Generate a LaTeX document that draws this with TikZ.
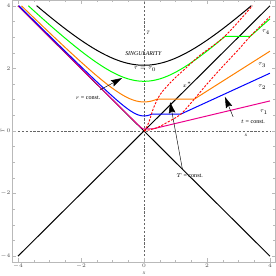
\documentclass[tikz,border=0pt]{standalone}
\usepackage{fontspec}
\setmainfont{Liberation Serif}
\usetikzlibrary{arrows.meta}
\begin{document}
\begin{tikzpicture}[x=1cm,y=0.9937cm,
  curve/.style={line width=0.9pt},
  reddash/.style={red, line width=0.8pt, dash pattern=on 2pt off 1.3pt},
  axisdash/.style={gray!80!black, line width=0.4pt, dash pattern=on 2pt off 1.5pt},
  lbl/.style={font=\fontsize{5.5}{6}\selectfont, inner sep=0.5pt},
  ticklbl/.style={font=\fontsize{4.4}{5}\selectfont, text=gray!60!black, inner sep=0.5pt},
  ptr/.style={line width=0.4pt, -{Stealth[length=10pt,width=6pt,inset=1.5pt]}},
  framebox/.style={gray!55, line width=0.4pt}
]
\useasboundingbox (-4.571,-4.633) rectangle (4.19,4.185);
% frame and ticks
\draw[framebox] (-4.17,-4.19) rectangle (4.17,4.17);
\foreach \v in {-4,-3.5,...,4}{
  \draw[framebox] (\v,-4.19) -- ++(0,0.06);
  \draw[framebox] (\v,4.17) -- ++(0,-0.06);
  \draw[framebox] (-4.17,\v) -- ++(0.06,0);
  \draw[framebox] (4.17,\v) -- ++(-0.06,0);
}
\foreach \v in {-4,-2,0,2,4}{
  \draw[framebox] (\v,-4.19) -- ++(0,0.12);
  \draw[framebox] (\v,4.17) -- ++(0,-0.12);
  \draw[framebox] (-4.17,\v) -- ++(0.12,0);
  \draw[framebox] (4.17,\v) -- ++(-0.12,0);
}
\foreach \v/\n in {-4/a,-2/b,0/c,2/d,4/e}{
  \node[ticklbl,anchor=north] (xt\n) at (\v,-4.22) {$\v$};
  \node[ticklbl,anchor=east] (yt\n) at (-4.22,\v) {$\v$};
}
\node[ticklbl,font=\fontsize{5}{6}\selectfont\itshape] (xaxis) at (0,-4.54) {x};
\node[ticklbl,font=\fontsize{5}{6}\selectfont\itshape,rotate=90] (taxis) at (-4.49,0) {T};
% coordinate axes
\draw[axisdash] (0,-4) -- (0,4.17);
\draw[axisdash] (-4,0) -- (4,0);
\node[lbl,font=\fontsize{4.5}{5}\selectfont\itshape] (Tlab) at (0.13,3.13) {T};
\node[lbl,font=\fontsize{4.5}{5}\selectfont\itshape] (xlab) at (3.24,-0.13) {x};
% light cone
\draw[curve] (-4,-4) -- (4,4);
\draw[curve] (-4,4) -- (4,-4);
% singularity
\draw[curve] plot[domain=-3.41:3.41,samples=90] (\x,{sqrt(\x*\x+4.41)});
% tau curves
\draw[curve,magenta] plot[domain=-4:0.03,samples=60] (\x,{sqrt(\x*\x+0.0036)}) -- (0.28,0.067) -- (4,0.96);
\draw[curve,blue] plot[domain=-3.97:0.25,samples=60] (\x,{sqrt(\x*\x+0.23)}) -- (1.17,0.54) -- (4,1.846);
\draw[curve,orange] plot[domain=-3.89:0.42,samples=60] (\x,{sqrt(\x*\x+0.86)}) -- (1.6,1.02) -- (4,2.55);
\draw[curve,green] plot[domain=-3.67:2.57,samples=80] (\x,{sqrt(\x*\x+2.52)}) -- (3.37,3.02) -- (4,3.585);
% red dashed curves
\draw[reddash] plot[smooth] coordinates {(0,0) (0.1,0.15) (0.19,0.38) (0.29,0.7) (0.44,1.04) (0.6,1.28) (0.92,1.63) (1.3,1.98) (1.78,2.42) (2.57,3.03) (3.44,4.0)};
\draw[reddash] plot[smooth] coordinates {(0,0) (0.4,0.1) (0.8,0.31) (1.17,0.54) (1.6,1.02) (2.0,1.5) (2.5,2.06) (3.0,2.6) (3.37,3.02) (4,3.66)};
% labels
\node[lbl,font=\fontsize{5.3}{6}\selectfont\itshape] (sing) at (-0.02,2.47) {SINGULARITY};
\node[lbl] (tau0) at (0.03,1.98) {$\tau=\tau_0$};
\node[lbl] (tau4) at (3.87,3.16) {$\tau_4$};
\node[lbl] (tau3) at (3.75,2.1) {$\tau_3$};
\node[lbl] (tau2) at (3.75,1.4) {$\tau_2$};
\node[lbl] (tau1) at (3.81,0.6) {$\tau_1$};
\node[lbl] (xstar) at (1.37,1.48) {$x^*$};
\node[lbl] (rc) at (-1.78,1.05) {$r$ = const.};
\node[lbl] (tc) at (3.46,0.29) {$t$ = const.};
\node[lbl] (Tc) at (1.45,-1.42) {$T$ = const.};
% pointers
\coordinate (rtail) at (-1.4,1.31);
\coordinate (rtip) at (-0.7,1.69);
\coordinate (ttail) at (2.83,0.45);
\coordinate (ttip) at (2.57,1.09);
\coordinate (Ttail) at (1.22,-1.22);
\coordinate (Ttip) at (0.83,0.92);
\draw[ptr] (rtail) -- (rtip);
\draw[ptr] (ttail) -- (ttip);
\draw[ptr] (Ttail) -- (Ttip);
\end{tikzpicture}
\end{document}
